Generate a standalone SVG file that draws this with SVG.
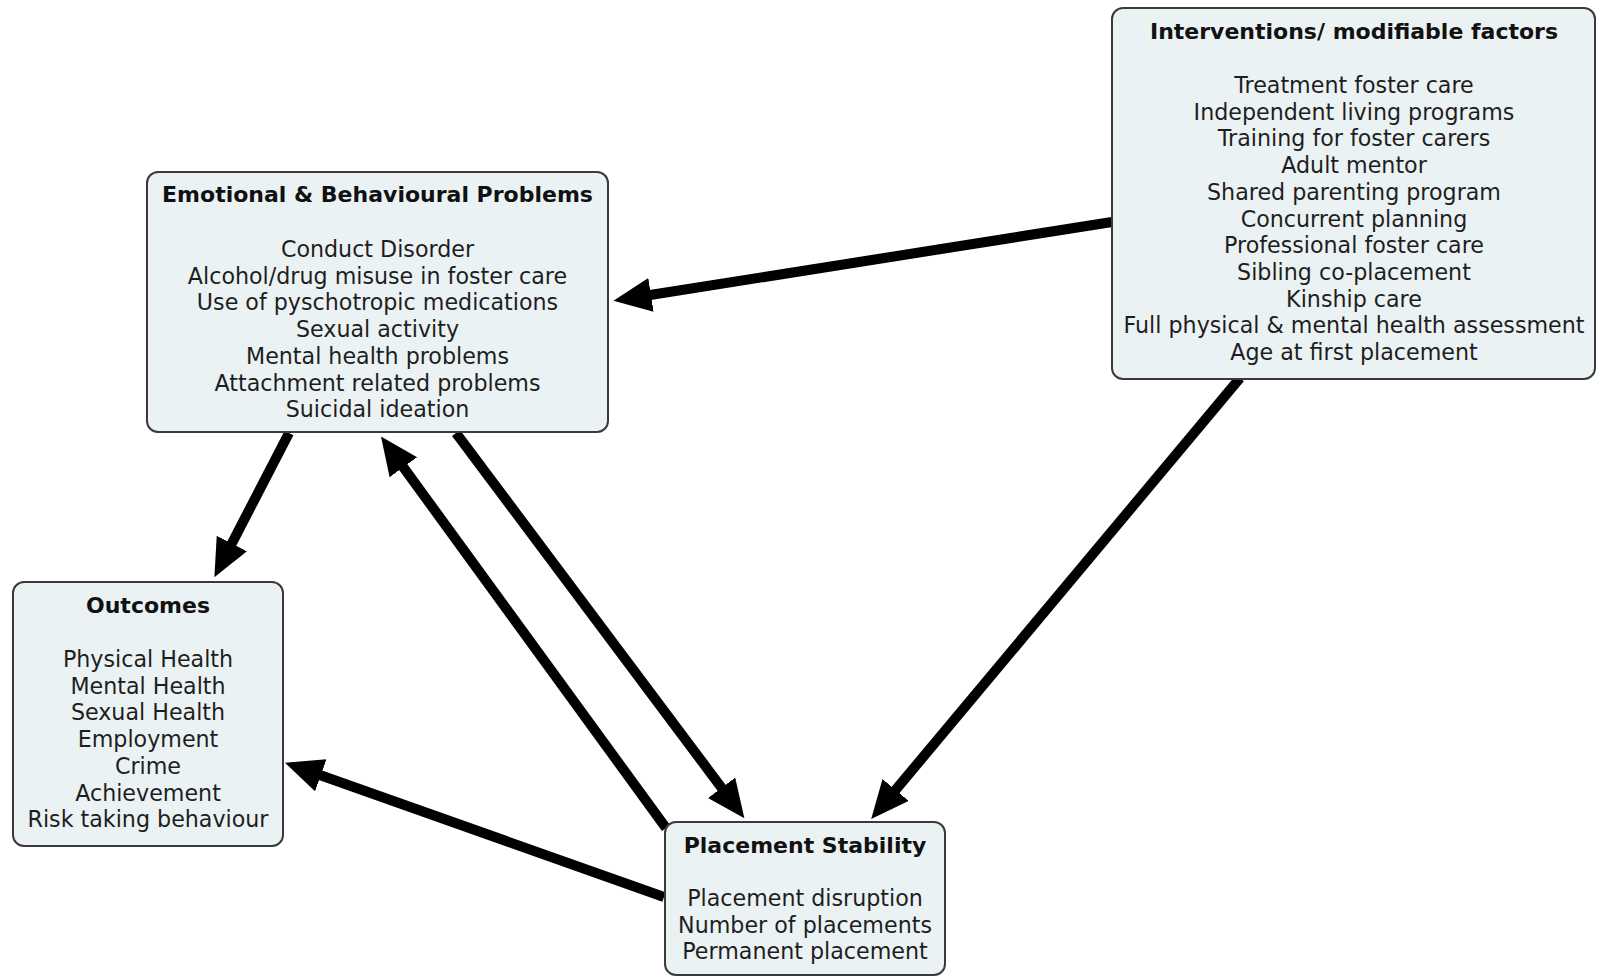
<svg xmlns="http://www.w3.org/2000/svg" width="1597" height="977" viewBox="0 0 1597 977">
  <style>
    .box { fill: #ebf2f4; stroke: #3a3a3a; stroke-width: 2; }
    .title { font-family: "DejaVu Sans", Verdana, sans-serif; font-weight: bold; font-size: 22px; fill: #111; text-anchor: middle; }
    .body { font-family: "DejaVu Sans", Verdana, sans-serif; font-size: 22.2px; fill: #1e1e1e; text-anchor: middle; }
    .arrow { stroke: #000; stroke-width: 10; fill: none; marker-end: url(#head); }
  </style>
  <defs>
    <marker id="head" markerUnits="userSpaceOnUse" markerWidth="40" markerHeight="36" refX="4" refY="17" orient="auto">
      <path d="M0,0 L38,17 L0,34 z" fill="#000"/>
    </marker>
  </defs>
  <rect width="1597" height="977" fill="#fff"/>

  <!-- connectors -->
  <g id="connectors">
    <line class="arrow" x1="1112" y1="222" x2="647" y2="295.5"/>
    <line class="arrow" x1="1240" y1="378" x2="893" y2="793"/>
    <line class="arrow" x1="289" y1="433" x2="230" y2="547"/>
    <line class="arrow" x1="666" y1="828" x2="401" y2="464"/>
    <line class="arrow" x1="456" y1="433" x2="724" y2="791"/>
    <line class="arrow" x1="664" y1="897" x2="317" y2="774"/>
  </g>

  <!-- Emotional & Behavioural Problems -->
  <g id="emotional-behavioural">
    <rect class="box" x="147" y="172" width="461" height="260" rx="11"/>
    <text class="title" x="377.5" y="202">Emotional &amp; Behavioural Problems</text>
    <text class="body" x="377.5" y="257">Conduct Disorder</text>
    <text class="body" x="377.5" y="283.7">Alcohol/drug misuse in foster care</text>
    <text class="body" x="377.5" y="310.4">Use of pyschotropic medications</text>
    <text class="body" x="377.5" y="337.1">Sexual activity</text>
    <text class="body" x="377.5" y="363.8">Mental health problems</text>
    <text class="body" x="377.5" y="390.5">Attachment related problems</text>
    <text class="body" x="377.5" y="417.2">Suicidal ideation</text>
  </g>

  <!-- Interventions / modifiable factors -->
  <g id="interventions">
    <rect class="box" x="1112" y="8" width="483" height="371" rx="11"/>
    <text class="title" x="1354" y="39">Interventions/ modifiable factors</text>
    <text class="body" x="1354" y="93">Treatment foster care</text>
    <text class="body" x="1354" y="119.7">Independent living programs</text>
    <text class="body" x="1354" y="146.4">Training for foster carers</text>
    <text class="body" x="1354" y="173.1">Adult mentor</text>
    <text class="body" x="1354" y="199.8">Shared parenting program</text>
    <text class="body" x="1354" y="226.5">Concurrent planning</text>
    <text class="body" x="1354" y="253.2">Professional foster care</text>
    <text class="body" x="1354" y="279.9">Sibling co-placement</text>
    <text class="body" x="1354" y="306.6">Kinship care</text>
    <text class="body" x="1354" y="333.3">Full physical &amp; mental health assessment</text>
    <text class="body" x="1354" y="360">Age at first placement</text>
  </g>

  <!-- Outcomes -->
  <g id="outcomes">
    <rect class="box" x="13" y="582" width="270" height="264" rx="11"/>
    <text class="title" x="148" y="613">Outcomes</text>
    <text class="body" x="148" y="667">Physical Health</text>
    <text class="body" x="148" y="693.7">Mental Health</text>
    <text class="body" x="148" y="720.4">Sexual Health</text>
    <text class="body" x="148" y="747.1">Employment</text>
    <text class="body" x="148" y="773.8">Crime</text>
    <text class="body" x="148" y="800.5">Achievement</text>
    <text class="body" x="148" y="827.2">Risk taking behaviour</text>
  </g>

  <!-- Placement Stability -->
  <g id="placement-stability">
    <rect class="box" x="665" y="822" width="280" height="153" rx="11"/>
    <text class="title" x="805" y="853">Placement Stability</text>
    <text class="body" x="805" y="906">Placement disruption</text>
    <text class="body" x="805" y="932.7">Number of placements</text>
    <text class="body" x="805" y="959.4">Permanent placement</text>
  </g>
</svg>
